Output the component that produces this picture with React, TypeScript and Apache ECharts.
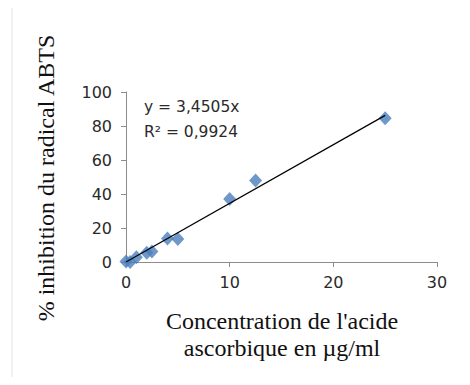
import React, { useEffect, useRef } from "react";
import * as echarts from "echarts";

const concentrations = [0, 0.4, 1, 2, 2.5, 4, 5, 10, 12.5, 25];
const inhibition = [0.3, 0, 2.8, 5.5, 6.2, 13.8, 13.5, 37, 48, 84.5];
const slope = 3.4505;
const trendX = [0, 25];
const xTicks = { min: 0, max: 30, interval: 10 };
const yTicks = { min: 0, max: 100, interval: 20 };
const equationLines = ["y = 3,4505x", "R² = 0,9924"];
const yTitle = "% inhibition du radical ABTS";
const xTitleLines = ["Concentration de l'acide", "ascorbique en µg/ml"];

export default function App() {
  const ref = useRef<HTMLDivElement>(null);
  useEffect(() => {
    if (!ref.current) return;
    const chart = echarts.init(ref.current, null, { renderer: "svg" });
    const axisColor = "#8c8c8c";
    const labelStyle = { color: "#2a2a2a", fontFamily: "DejaVu Sans", fontSize: 16 };
    chart.setOption({
      animation: false,
      backgroundColor: "#fff",
      grid: { left: 126, right: 33, top: 92, bottom: 123 },
      xAxis: {
        type: "value",
        min: xTicks.min,
        max: xTicks.max,
        interval: xTicks.interval,
        splitLine: { show: false },
        axisLine: { show: true, lineStyle: { color: axisColor, width: 1 } },
        axisTick: { show: true, inside: false, length: 5, lineStyle: { color: axisColor } },
        axisLabel: { ...labelStyle, margin: 12 },
      },
      yAxis: {
        type: "value",
        min: yTicks.min,
        max: yTicks.max,
        interval: yTicks.interval,
        splitLine: { show: false },
        axisLine: { show: true, lineStyle: { color: axisColor, width: 1 } },
        axisTick: { show: true, inside: false, length: 5, lineStyle: { color: axisColor } },
        axisLabel: { ...labelStyle, margin: 14 },
      },
      series: [
        {
          type: "line",
          data: trendX.map((x) => [x, slope * x]),
          symbol: "none",
          lineStyle: { color: "#000", width: 1.2 },
          z: 3,
        },
        {
          type: "scatter",
          data: concentrations.map((c, i) => [c, inhibition[i]]),
          symbol: "diamond",
          symbolSize: [13, 14],
          itemStyle: { color: "#4a7ebb" },
          z: 2,
        },
      ],
      graphic: [
        {
          type: "rect",
          shape: { x: 12, y: 7, width: 453, height: 385 },
          style: { fill: "none", stroke: "#e3e3e3", lineWidth: 1 },
          z: -1,
        },
        {
          type: "text",
          x: 144,
          y: 107,
          style: {
            text: equationLines[0],
            font: "15.5px 'DejaVu Sans'",
            fill: "#2a2a2a",
            verticalAlign: "middle",
          },
        },
        {
          type: "text",
          x: 144,
          y: 132,
          style: {
            text: equationLines[1],
            font: "15.5px 'DejaVu Sans'",
            fill: "#2a2a2a",
            verticalAlign: "middle",
          },
        },
        {
          type: "text",
          x: 46,
          y: 178,
          rotation: Math.PI / 2,
          style: {
            text: yTitle,
            font: "24px 'Liberation Serif'",
            fill: "#111",
            align: "center",
            verticalAlign: "middle",
          },
        },
        {
          type: "text",
          x: 282,
          y: 321,
          style: {
            text: xTitleLines[0],
            font: "24px 'Liberation Serif'",
            fill: "#111",
            align: "center",
            verticalAlign: "middle",
          },
        },
        {
          type: "text",
          x: 282,
          y: 348,
          style: {
            text: xTitleLines[1],
            font: "24px 'Liberation Serif'",
            fill: "#111",
            align: "center",
            verticalAlign: "middle",
          },
        },
      ],
    });
    return () => chart.dispose();
  }, []);
  return <div ref={ref} style={{ width: 470, height: 385, margin: -8 }} />;
}
